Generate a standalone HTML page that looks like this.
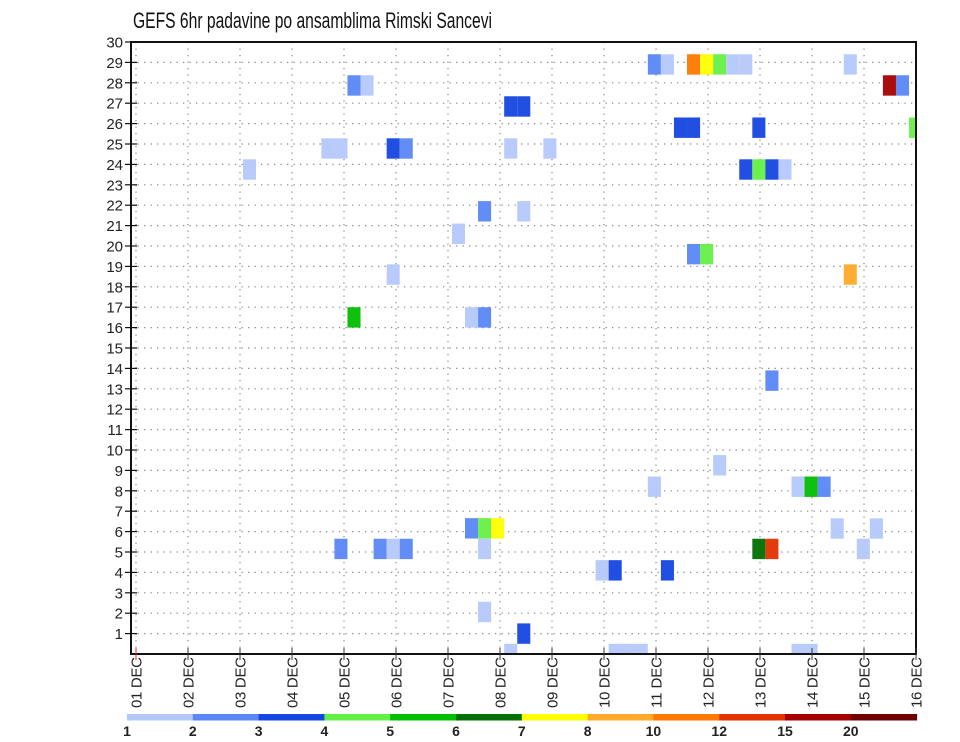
<!DOCTYPE html>
<html><head><meta charset="utf-8"><style>
html,body{margin:0;padding:0;background:#fff;}
svg{display:block;font-family:"Liberation Sans",sans-serif;}
</style></head><body>
<svg id="chart" width="960" height="742" viewBox="0 0 960 742" xmlns="http://www.w3.org/2000/svg">
<text x="133" y="28" font-size="22" textLength="359" lengthAdjust="spacingAndGlyphs" fill="#111">GEFS 6hr padavine po ansamblima Rimski Sancevi</text>
<g id="grid"></g>
<g id="cells"></g>
<g id="axes"></g>
<g id="cbar"></g>
</svg>
<script>
// data
const dayLabels = ["01 DEC","02 DEC","03 DEC","04 DEC","05 DEC","06 DEC","07 DEC","08 DEC","09 DEC","10 DEC","11 DEC","12 DEC","13 DEC","14 DEC","15 DEC","16 DEC"];
const memberTicks = [1,2,3,4,5,6,7,8,9,10,11,12,13,14,15,16,17,18,19,20,21,22,23,24,25,26,27,28,29,30];
const levelLabels = ["1","2","3","4","5","6","7","8","10","12","15","20"];
const levelColors = ["#b4c8fa","#5a87f5","#1446e0","#64f046","#00be00","#007000","#ffff00","#ffaa28","#ff7800","#e13200","#a50000","#6e0000"];
// cells: step index (6-hourly from 01 DEC 00z), member position, colour class
const cellStep =   [39,40,42,43,44,45,46,54, 16,17,57,58, 28,29, 41,42,47,59, 14,15,19,20,28,31, 8,46,47,48,49, 26,29, 24, 42,43, 19,54, 16,25,26, 48, 44, 39,50,51,52, 25,26,27, 53,56, 15,18,19,20,26,47,48,55, 35,36,40, 26, 29, 28,36,37,38,50,51];
const cellMember = [28.9,28.9,28.9,28.9,28.9,28.9,28.9,28.9, 27.87,27.87,27.87,27.87, 26.84,26.84, 25.8,25.8,25.8,25.8, 24.78,24.78,24.78,24.78,24.78,24.78, 23.75,23.75,23.75,23.75,23.75, 21.7,21.7, 20.6, 19.6,19.6, 18.6,18.6, 16.5,16.5,16.5, 13.4, 9.25, 8.2,8.2,8.2,8.2, 6.16,6.16,6.16, 6.15,6.15, 5.15,5.15,5.15,5.15,5.15,5.15,5.15,5.15, 4.1,4.1,4.1, 2.06, 1.0, 0,0,0,0,0,0];
const cellLevel =  [1,0,8,6,3,0,0,0, 1,0,10,1, 2,2, 2,2,2,3, 0,0,2,1,0,0, 0,2,3,2,0, 1,0, 0, 1,3, 0,7, 4,0,1, 1, 0, 0,0,4,1, 1,3,6, 0,0, 1,1,0,1,0,5,9,0, 0,2,2, 0, 2, 0,0,0,0,0,0];

const NS="http://www.w3.org/2000/svg";
const L=131,R=916,T=42,B=654,X0=136,DAY=52;
const SX0=138.5,STEP=13.06;
const xs = s => SX0 + s*STEP;
const xd = d => X0 + d*DAY;
const ym = m => B - m*(B-T)/30;
function mk(tag,attrs,parent){const e=document.createElementNS(NS,tag);for(const k in attrs)e.setAttribute(k,attrs[k]);parent.appendChild(e);return e;}
const grid=document.getElementById('grid'),cells=document.getElementById('cells'),axes=document.getElementById('axes'),cbar=document.getElementById('cbar');

memberTicks.forEach(m=>{
  const l=mk('line',{x1:L,x2:R,y1:ym(m),y2:ym(m),stroke:'#888','stroke-width':1.2,'stroke-dasharray':'1.3,5.2'},grid);
  
  
});
dayLabels.forEach((d,i)=>{
  const l=mk('line',{x1:xd(i),x2:xd(i),y1:T,y2:B,stroke:'#888','stroke-width':1.2,'stroke-dasharray':'1.3,5.2'},grid);
  
  
});

const clip=mk('clipPath',{id:'pc'},document.getElementById('chart'));
mk('rect',{x:L,y:T,width:R-L,height:B-T},clip);
cells.setAttribute('clip-path','url(#pc)');
const ch=(B-T)/30;
cellStep.forEach((s,i)=>{
  const r=mk('rect',{x:xs(s),y:ym(cellMember[i])-ch/2,width:STEP,height:ch,fill:levelColors[cellLevel[i]],'fill-opacity':0.95},cells);
  
  
});

const fr=mk('rect',{x:L,y:T,width:R-L,height:B-T,fill:'none',stroke:'#111','stroke-width':2},axes);


memberTicks.forEach(m=>{
  mk('line',{x1:125,x2:137,y1:ym(m),y2:ym(m),stroke:'#111','stroke-width':1.2},axes);
  const t=mk('text',{x:123,y:ym(m)+5.5,'text-anchor':'end','font-size':15,fill:'#222'},axes);
  t.textContent=m;
  
  
});
dayLabels.forEach((d,i)=>{
  mk('line',{x1:xd(i),x2:xd(i),y1:B-6,y2:B+6,stroke:i===0?'#c33':'#333','stroke-width':1},axes);
  const t=mk('text',{transform:`translate(${xd(i)+5.5},657) rotate(-90)`,'text-anchor':'end','font-size':15,fill:'#222','xml:space':'preserve'},axes);
  t.textContent=d.replace(' ','  ');
  t.setAttribute('textLength','51');
  
  
});

const CB0=127,CBW=65.8;
levelColors.forEach((c,i)=>{
  const r=mk('rect',{x:CB0+i*CBW,y:714,width:CBW+0.5,height:6.5,fill:c},cbar);
  
  
});
levelLabels.forEach((l,i)=>{
  const t=mk('text',{x:CB0+i*CBW,y:736,'text-anchor':'middle','font-size':14,'font-weight':'bold',fill:'#222'},cbar);
  t.textContent=l;
  
  
});
</script>
</body></html>
